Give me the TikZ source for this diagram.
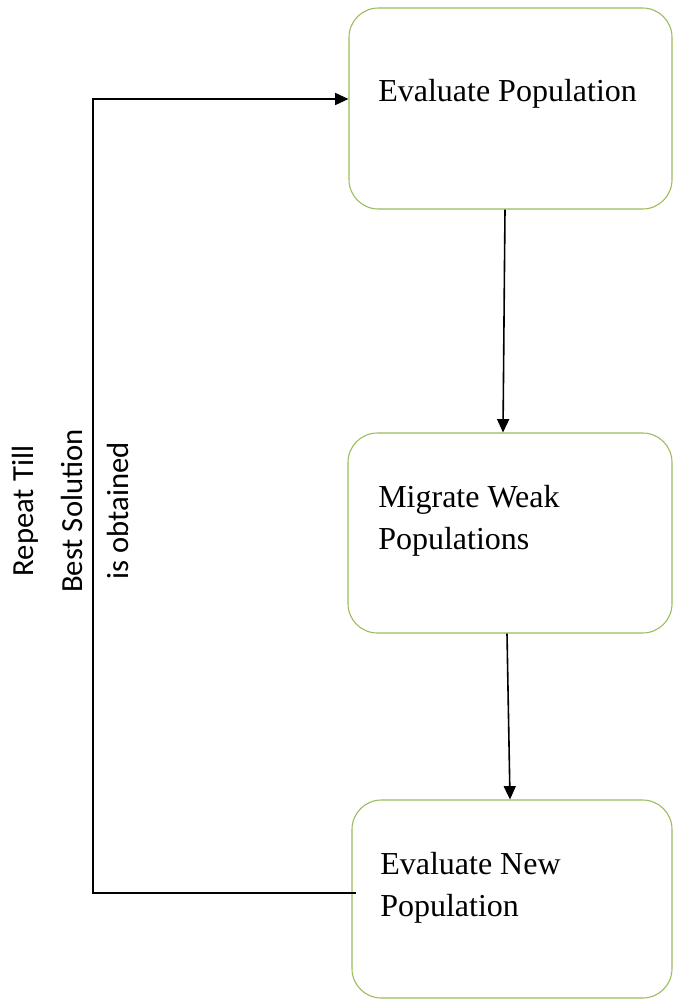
\documentclass[tikz,border=0pt]{standalone}
\usepackage{fontspec}
\setmainfont{Liberation Serif}
\newfontfamily\sidefont{Carlito}
\usetikzlibrary{arrows.meta}
\definecolor{boxgreen}{RGB}{155,187,89}

\begin{document}
\begin{tikzpicture}[x=0.75pt,y=-0.75pt,
  stagebox/.style={draw=boxgreen,line width=0.8pt,rounded corners=22pt,inner sep=0pt},
  stagetext/.style={anchor=base west,inner sep=0pt,align=left,font=\fontsize{24}{31}\selectfont},
  sidetext/.style={anchor=base,rotate=90,inner sep=0pt,font=\sidefont\fontsize{23}{28}\selectfont},
  flow/.style={line width=1.2pt,-{Triangle[length=10pt,width=9pt]}}]
\useasboundingbox (0,0) rectangle (673,999);
\node[stagebox,minimum width=242.25pt,minimum height=150.75pt] (b1) at (510.5,108.5) {};
\node[stagebox,minimum width=243pt,minimum height=150pt] (b2) at (510,533) {};
\node[stagebox,minimum width=240pt,minimum height=148.5pt] (b3) at (512,899) {};
\node[stagetext] (t1) at (378,101) {Evaluate Population};
\node[stagetext] (t2) at (378,549) {Migrate Weak\\Populations};
\node[stagetext] (t3) at (380,916) {Evaluate New\\Population};
\node[sidetext] (r1) at (33,511) {Repeat Till};
\node[sidetext] (r2) at (82,511) {Best Solution};
\node[sidetext] (r3) at (128,511) {is obtained};
\coordinate (back) at (93,99);
\draw[flow] ([shift={(-5.5,0)}]b1.south) -- ([shift={(-7,0)}]b2.north);
\draw[flow] ([shift={(-3,0)}]b2.south) -- ([shift={(-2,0)}]b3.north);
\draw[flow] ([shift={(5,-6)}]b3.west) -| (back) -- ([shift={(0,-9.5)}]b1.west);
\end{tikzpicture}
\end{document}
